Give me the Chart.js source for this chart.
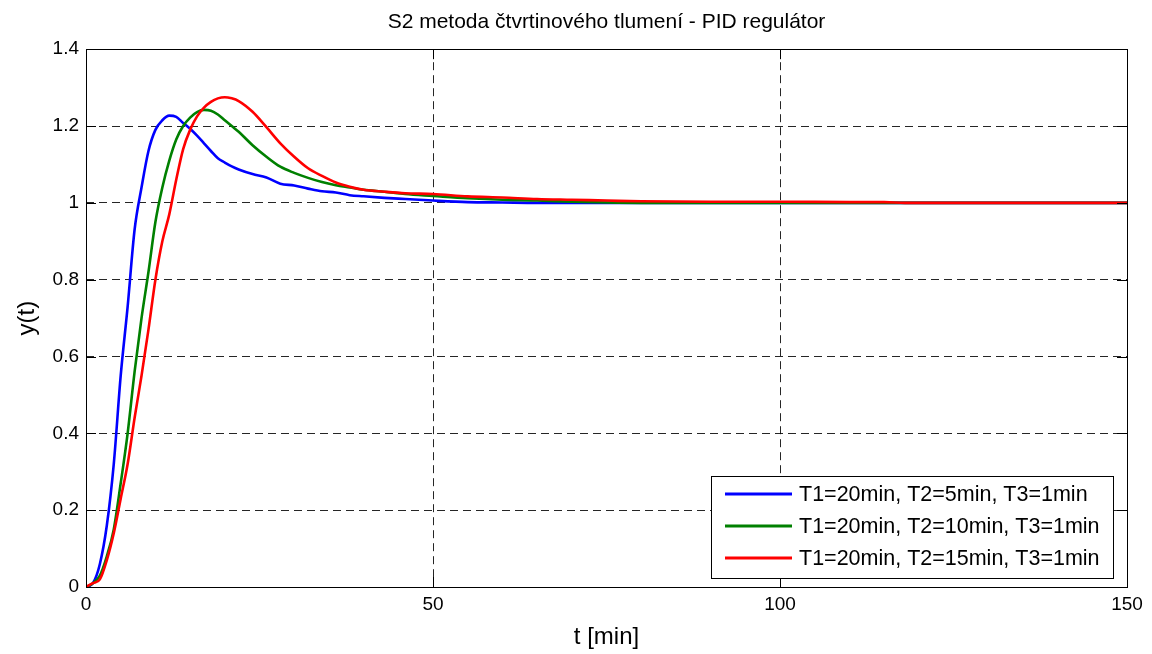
<!DOCTYPE html>
<html>
<head>
<meta charset="utf-8">
<script src="https://cdn.jsdelivr.net/npm/chart.js@4.4.0/dist/chart.umd.min.js"></script>
<style>
html,body{margin:0;padding:0;background:#fff;}
#wrap{width:1152px;height:654px;position:relative;}
</style>
</head>
<body>
<div id="wrap"><canvas id="c" width="1152" height="654"></canvas></div>
<script>
// ---- text ----
const titleText = 'S2 metoda čtvrtinového tlumení - PID regulátor';
const xLabel = 't [min]';
const yLabel = 'y(t)';
const seriesLabels = [
  'T1=20min, T2=5min, T3=1min',
  'T1=20min, T2=10min, T3=1min',
  'T1=20min, T2=15min, T3=1min'
];
const seriesColors = ['#0000ff', '#008000', '#ff0000'];

// ---- data ----
const tMin = [0,1,2,3,4,5,6,7,8,9,10,11,12,13,14,15,16,17,18,19,20,21,22,
  24,26,28,30,32,34,36,38,40,43,46,50,55,60,65,70,75,80,
  90,100,110,115,118,120,130,140,150];
const yT2_5 = [0,0.01,0.06,0.16,0.32,0.55,0.73,0.93,1.04,1.135,1.19,1.215,1.227,1.224,1.208,1.193,1.175,1.155,1.135,1.116,1.105,1.095,1.087,
  1.075,1.066,1.05,1.045,1.037,1.03,1.027,1.02,1.017,1.013,1.01,1.006,1.002,1.001,1.0,1.0,1.0,1.0,
  1.0,1.0,1.0,1.0,1.0,1.0,1.0,1.0,1.0];
const yT2_10 = [0,0.01,0.03,0.08,0.15,0.27,0.40,0.56,0.70,0.82,0.95,1.04,1.11,1.165,1.20,1.222,1.236,1.242,1.24,1.23,1.215,1.20,1.185,
  1.15,1.12,1.094,1.078,1.065,1.054,1.046,1.04,1.034,1.029,1.023,1.018,1.012,1.008,1.006,1.003,1.001,1.0,
  1.0,1.0,1.0,1.0,1.0,1.0,1.0,1.0,1.0];
const yT2_15 = [0,0.01,0.02,0.07,0.14,0.23,0.32,0.44,0.55,0.67,0.80,0.90,0.97,1.06,1.14,1.19,1.225,1.248,1.263,1.272,1.275,1.272,1.265,
  1.237,1.197,1.155,1.12,1.09,1.07,1.053,1.042,1.034,1.029,1.025,1.023,1.017,1.014,1.01,1.008,1.006,1.004,
  1.003,1.003,1.002,1.002,1.0,1.0,1.0,1.0,1.0];
const seriesValues = [yT2_5, yT2_10, yT2_15];

// ---- ticks ----
const xTicks = [0, 50, 100, 150];
const yTicks = [0, 0.2, 0.4, 0.6, 0.8, 1.0, 1.2, 1.4];

const FONT = '"Liberation Sans", Arial, Helvetica, sans-serif';

const frameAndLegend = {
  id: 'frameAndLegend',
  afterDraw(chart) {
    const ctx = chart.ctx;
    const a = chart.chartArea;
    const xs = chart.scales.x, ys = chart.scales.y;
    ctx.save();
    ctx.strokeStyle = '#000';
    ctx.lineWidth = 1;
    ctx.setLineDash([]);
    // inward tick marks
    const tl = 10;
    ctx.beginPath();
    xTicks.forEach(v => {
      const px = Math.round(xs.getPixelForValue(v)) + 0.5;
      ctx.moveTo(px, a.bottom); ctx.lineTo(px, a.bottom - tl);
      ctx.moveTo(px, a.top); ctx.lineTo(px, a.top + tl);
    });
    yTicks.forEach(v => {
      const py = Math.round(ys.getPixelForValue(v)) + 0.5;
      ctx.moveTo(a.left, py); ctx.lineTo(a.left + tl, py);
      ctx.moveTo(a.right, py); ctx.lineTo(a.right - tl, py);
    });
    ctx.stroke();
    // frame
    const L = Math.round(a.left) + 0.5, T = Math.round(a.top) + 0.5;
    const R = Math.round(a.right) + 0.5, B = Math.round(a.bottom) + 0.5;
    ctx.strokeRect(L, T, R - L, B - T);

    // legend box
    const bx = 711.5, by = 476.5, bw = 402, bh = 102;
    ctx.fillStyle = '#fff';
    ctx.fillRect(bx, by, bw, bh);
    ctx.strokeRect(bx, by, bw, bh);
    const rows = [494, 526, 558];
    ctx.font = '21.5px ' + FONT;
    ctx.textBaseline = 'middle';
    ctx.textAlign = 'left';
    chart.data.datasets.forEach((ds, i) => {
      ctx.strokeStyle = ds.borderColor;
      ctx.lineWidth = 3;
      ctx.beginPath();
      ctx.moveTo(725, rows[i]); ctx.lineTo(792, rows[i]);
      ctx.stroke();
      ctx.fillStyle = '#000';
      ctx.fillText(ds.label, 799, rows[i] + 1);
    });
    ctx.restore();
  }
};

const datasets = seriesLabels.map((lab, i) => ({
  label: lab,
  data: tMin.map((t, k) => ({x: t, y: seriesValues[i][k]})),
  borderColor: seriesColors[i],
  backgroundColor: seriesColors[i],
  borderWidth: 2.6,
  pointRadius: 0,
  fill: false,
  cubicInterpolationMode: 'monotone',
  order: 2 - i
}));

new Chart(document.getElementById('c'), {
  type: 'line',
  data: { datasets },
  plugins: [frameAndLegend],
  options: {
    responsive: false,
    animation: false,
    devicePixelRatio: 1,
    layout: { padding: { left: 0, right: 25, top: 0, bottom: 0 } },
    plugins: {
      legend: { display: false },
      tooltip: { enabled: false },
      title: {
        display: true,
        text: titleText,
        fullSize: false,
        color: '#000',
        font: { family: FONT, size: 21, weight: 'normal', lineHeight: 1.2 },
        padding: { top: 10, bottom: 14 }
      }
    },
    scales: {
      x: {
        type: 'linear',
        min: 0, max: 150,
        afterBuildTicks: s => { s.ticks = xTicks.map(v => ({value: v})); },
        afterFit: s => { s.height = 67; },
        ticks: {
          color: '#000', padding: 6, maxRotation: 0,
          font: { family: FONT, size: 19 },
          callback: v => String(v)
        },
        grid: { color: 'rgba(0,0,0,0.85)', lineWidth: 1, drawTicks: false },
        border: { display: false, dash: [8, 5] },
        title: {
          display: true, text: xLabel, color: '#000',
          font: { family: FONT, size: 24, lineHeight: 1.2 },
          padding: { top: 0, bottom: 2 }
        }
      },
      y: {
        type: 'linear',
        min: 0, max: 1.4,
        afterBuildTicks: s => { s.ticks = yTicks.map(v => ({value: v})); },
        afterFit: s => { s.width = 86; },
        ticks: {
          color: '#000', padding: 7,
          font: { family: FONT, size: 19 },
          callback: v => String(Number(v.toFixed(1)))
        },
        grid: { color: 'rgba(0,0,0,0.85)', lineWidth: 1, drawTicks: false },
        border: { display: false, dash: [8, 5] },
        title: {
          display: true, text: yLabel, color: '#000',
          font: { family: FONT, size: 24, lineHeight: 1.2 },
          padding: { top: 13, bottom: 0 }
        }
      }
    }
  }
});
</script>
</body>
</html>
